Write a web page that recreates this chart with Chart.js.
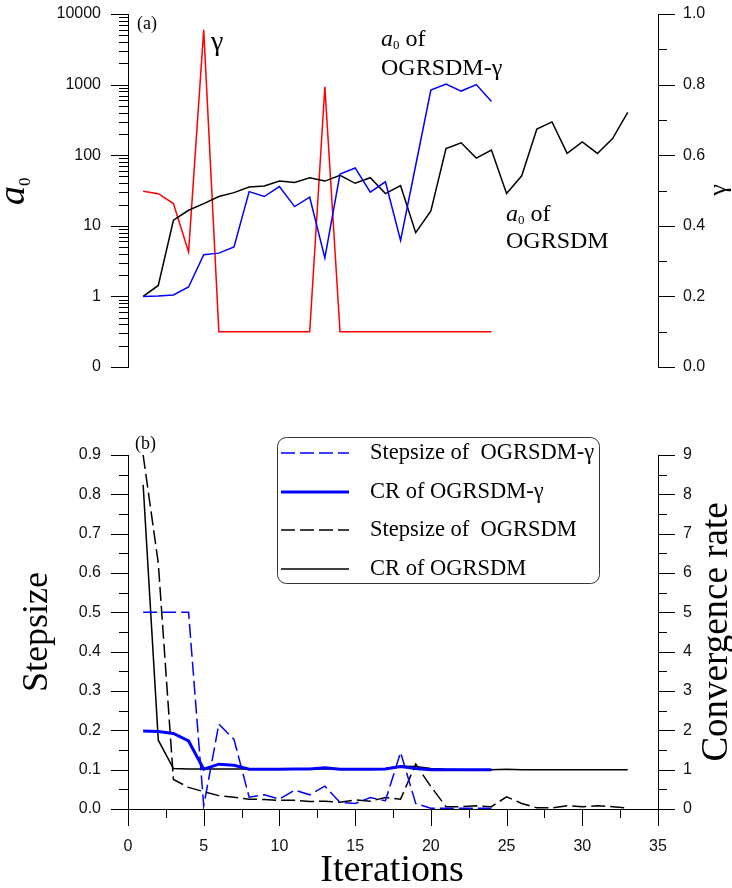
<!DOCTYPE html>
<html>
<head>
<meta charset="utf-8">
<script src="https://cdn.jsdelivr.net/npm/chart.js@4.4.0/dist/chart.umd.min.js"></script>
<style>
  body { margin: 0; background: #fff; }
  #wrap { position: relative; width: 732px; height: 888px; }
  canvas { position: absolute; left: 0; }
</style>
</head>
<body>
<div id="wrap">
  <canvas id="topChart" width="732" height="390" style="top:0"></canvas>
  <canvas id="bottomChart" width="732" height="498" style="top:390px"></canvas>
</div>
<script>
// iterations (x)
const iterations = [1, 2, 3, 4, 5, 6, 7, 8, 9, 10, 11, 12, 13, 14, 15, 16, 17,
  18, 19, 20, 21, 22, 23, 24, 25, 26, 27, 28, 29, 30, 31, 32, 33];

// (a) a0 of OGRSDM-gamma, a0 of OGRSDM, gamma
const a0Gamma = [1, 1.01, 1.05, 1.36, 3.9, 4.1, 5.0, 30.5, 26, 36, 18.7, 25.4,
  3.5, 54, 66, 30, 42, 6.2, 72, 835, 1015, 810, 1000, 575];
const a0Plain = [1, 1.43, 12, 16.6, 20.6, 26, 29.5, 35.5, 36.7, 43, 41, 48, 43,
  52, 40, 48, 28.6, 37, 8, 16.2, 124, 150, 91, 118, 28.6, 51, 234, 296, 106,
  154, 106, 172, 403];
const gammaVals = [0.498, 0.491, 0.463, 0.326, 0.955, 0.1, 0.1, 0.1, 0.1, 0.1,
  0.1, 0.1, 0.794, 0.1, 0.1, 0.1, 0.1, 0.1, 0.1, 0.1, 0.1, 0.1, 0.1, 0.1];

// (b) stepsize and convergence rate
const stepGamma = [0.5, 0.5, 0.5, 0.5, 0.008, 0.216, 0.177, 0.030, 0.036, 0.025,
  0.048, 0.036, 0.058, 0.017, 0.014, 0.029, 0.021, 0.144, 0.014, 0.002, 0.002,
  0.002, 0.002, 0.002];
const crGamma = [1.98, 1.97, 1.92, 1.73, 1.01, 1.14, 1.11, 1.01, 1.01, 1.01,
  1.02, 1.02, 1.05, 1.01, 1.01, 1.01, 1.02, 1.08, 1.03, 1.0, 1.0, 1.0, 1.0, 1.0];
const stepPlain = [0.9, 0.625, 0.075, 0.055, 0.044, 0.034, 0.030, 0.025, 0.024,
  0.022, 0.022, 0.019, 0.020, 0.017, 0.023, 0.020, 0.029, 0.025, 0.114, 0.057,
  0.006, 0.006, 0.008, 0.006, 0.031, 0.014, 0.003, 0.003, 0.008, 0.006, 0.008,
  0.006, 0.002];
const crPlain = [8.24, 1.75, 1.03, 1.02, 1.02, 1.02, 1.02, 1.02, 1.02, 1.02,
  1.02, 1.02, 1.02, 1.02, 1.02, 1.02, 1.03, 1.09, 1.08, 1.03, 1.01, 1.0, 1.0,
  1.0, 1.01, 1.0, 1.0, 1.0, 1.0, 1.0, 1.0, 1.0, 1.0];

// tick values
const a0Ticks = [-1, 0, 1, 2, 3, 4]; // log10 positions, -1 is shown as "0"
const gammaTicks = [0, 0.2, 0.4, 0.6, 0.8, 1.0];
const stepTicks = [0, 0.1, 0.2, 0.3, 0.4, 0.5, 0.6, 0.7, 0.8, 0.9];
const crTicks = [0, 1, 2, 3, 4, 5, 6, 7, 8, 9];
const iterTicks = [0, 5, 10, 15, 20, 25, 30, 35];

const SANS = '"Liberation Sans", Arial, sans-serif';
const SERIF = '"Liberation Serif", "Times New Roman", serif';

function pts(ys, fn) {
  return ys.map((y, i) => ({ x: iterations[i], y: fn ? fn(y) : y }));
}
function minorBetween(major, n) {
  const out = [];
  for (let i = 0; i < major.length - 1; i++) {
    const step = (major[i + 1] - major[i]) / n;
    for (let k = 1; k < n; k++) out.push(major[i] + k * step);
  }
  return out;
}
function logMinor() {
  const out = [];
  for (let e = -1; e < 4; e++) {
    for (let k = 2; k < 10; k++) out.push(Math.log10(k * Math.pow(10, e)));
  }
  return out;
}
// fixed axis box size, no extra label overhang padding
function fixSize(w, h) {
  return s => {
    if (w) s.width = w;
    if (h) s.height = h;
    s.paddingTop = 0; s.paddingBottom = 0;
    s.paddingLeft = 0; s.paddingRight = 0;
  };
}

// draws a run of text pieces (for subscripts), optionally rotated
function drawRich(ctx, parts, x, y, rot, align) {
  ctx.save();
  ctx.translate(x, y);
  if (rot) ctx.rotate(rot);
  ctx.textBaseline = 'alphabetic';
  ctx.textAlign = 'left';
  let total = 0;
  parts.forEach(p => { ctx.font = p.font; total += ctx.measureText(p.t).width; });
  let cx = align === 'center' ? -total / 2 : 0;
  parts.forEach(p => {
    ctx.font = p.font;
    ctx.fillStyle = '#000';
    ctx.fillText(p.t, cx, p.dy || 0);
    cx += ctx.measureText(p.t).width;
  });
  ctx.restore();
}

const decor = {
  id: 'decor',
  afterDraw(chart, args, opts) {
    const ctx = chart.ctx;
    const area = chart.chartArea;
    ctx.save();
    ctx.strokeStyle = '#000';
    ctx.lineWidth = 1;
    (opts.marks || []).forEach(m => {
      const s = chart.scales[m.id];
      const tick = (v, len) => {
        const p = Math.round(s.getPixelForValue(v)) + 0.5;
        ctx.beginPath();
        if (m.side === 'left') { ctx.moveTo(area.left, p); ctx.lineTo(area.left - len, p); }
        if (m.side === 'right') { ctx.moveTo(area.right, p); ctx.lineTo(area.right + len, p); }
        if (m.side === 'bottom') { ctx.moveTo(p, area.bottom); ctx.lineTo(p, area.bottom + len); }
        ctx.stroke();
      };
      m.major.forEach(v => tick(v, 17));
      m.minor.forEach(v => tick(v, 9));
    });
    (opts.texts || []).forEach(t => drawRich(ctx, t.parts, t.x, t.y, t.rot, t.align));

    const lg = opts.legend;
    if (lg) {
      ctx.beginPath();
      ctx.strokeStyle = '#333';
      ctx.lineWidth = 1;
      ctx.roundRect(lg.x + 0.5, lg.y + 0.5, lg.w, lg.h, 9);
      ctx.stroke();
      chart.data.datasets.forEach((ds, i) => {
        const yy = lg.rowY[i];
        ctx.beginPath();
        ctx.strokeStyle = ds.borderColor;
        ctx.lineWidth = ds.borderWidth;
        ctx.setLineDash(ds.borderDash || []);
        ctx.moveTo(lg.lineX0, yy);
        ctx.lineTo(lg.lineX1, yy);
        ctx.stroke();
        ctx.setLineDash([]);
        ctx.fillStyle = '#000';
        ctx.font = lg.font;
        ctx.textBaseline = 'middle';
        ctx.textAlign = 'left';
        ctx.fillText(ds.label, lg.textX, yy);
      });
    }
    ctx.restore();
  }
};

const baseLine = { pointRadius: 0, tension: 0, fill: false };
const tickFont = { family: SANS, size: 16 };

// ---------- (a) ----------
new Chart(document.getElementById('topChart'), {
  type: 'line',
  data: {
    datasets: [
      { ...baseLine, label: 'a0 of OGRSDM-γ', data: pts(a0Gamma, Math.log10),
        borderColor: '#0000ff', borderWidth: 1.5, yAxisID: 'y' },
      { ...baseLine, label: 'a0 of OGRSDM', data: pts(a0Plain, Math.log10),
        borderColor: '#000000', borderWidth: 1.5, yAxisID: 'y' },
      { ...baseLine, label: 'γ', data: pts(gammaVals),
        borderColor: '#ff0000', borderWidth: 1.5, yAxisID: 'y1' }
    ]
  },
  options: {
    responsive: false,
    animation: false,
    devicePixelRatio: 1,
    layout: { padding: { top: 14, bottom: 23, left: 0, right: 0 } },
    plugins: {
      legend: { display: false },
      tooltip: { enabled: false },
      decor: {
        marks: [
          { id: 'y', side: 'left', major: a0Ticks, minor: logMinor() },
          { id: 'y1', side: 'right', major: gammaTicks, minor: minorBetween(gammaTicks, 2) }
        ],
        texts: [
          { parts: [{ t: '(a)', font: '18px ' + SERIF }], x: 137, y: 29 },
          { parts: [{ t: 'γ', font: '28px ' + SERIF }], x: 211, y: 50 },
          { parts: [{ t: 'a', font: 'italic 24px ' + SERIF },
                    { t: '0', font: '13px ' + SERIF, dy: 3 },
                    { t: ' of', font: '24px ' + SERIF }], x: 381, y: 46 },
          { parts: [{ t: 'OGRSDM-γ', font: '24px ' + SERIF }], x: 381, y: 75 },
          { parts: [{ t: 'a', font: 'italic 24px ' + SERIF },
                    { t: '0', font: '13px ' + SERIF, dy: 3 },
                    { t: ' of', font: '24px ' + SERIF }], x: 506, y: 221 },
          { parts: [{ t: 'OGRSDM', font: '24px ' + SERIF }], x: 506, y: 248 },
          { parts: [{ t: 'a', font: 'italic 38px ' + SERIF },
                    { t: '0', font: '17px ' + SERIF, dy: 6 }], x: 24, y: 205, rot: -Math.PI / 2 },
          { parts: [{ t: 'γ', font: '26px ' + SERIF }], x: 726, y: 190, rot: -Math.PI / 2, align: 'center' }
        ]
      }
    },
    scales: {
      x: { type: 'linear', min: 0, max: 35, display: false },
      y: {
        type: 'linear', position: 'left', min: -1, max: 4,
        afterFit: fixSize(128),
        afterBuildTicks: s => { s.ticks = a0Ticks.map(v => ({ value: v })); },
        grid: { display: false, drawTicks: false },
        border: { display: true, color: '#000', width: 1 },
        ticks: {
          font: tickFont, color: '#111', padding: 27,
          callback: v => (v === -1 ? '0' : String(Math.round(Math.pow(10, v))))
        }
      },
      y1: {
        type: 'linear', position: 'right', min: 0, max: 1,
        afterFit: fixSize(74),
        afterBuildTicks: s => { s.ticks = gammaTicks.map(v => ({ value: v })); },
        grid: { display: false, drawTicks: false },
        border: { display: true, color: '#000', width: 1 },
        ticks: { font: tickFont, color: '#111', padding: 25, callback: v => v.toFixed(1) }
      }
    }
  },
  plugins: [decor]
});

// ---------- (b) ----------
new Chart(document.getElementById('bottomChart'), {
  type: 'line',
  data: {
    datasets: [
      { ...baseLine, label: 'Stepsize of  OGRSDM-γ', data: pts(stepGamma),
        borderColor: '#0000ff', borderWidth: 1.5, borderDash: [14, 5], yAxisID: 'y' },
      { ...baseLine, label: 'CR of OGRSDM-γ', data: pts(crGamma),
        borderColor: '#0000ff', borderWidth: 3, yAxisID: 'y1' },
      { ...baseLine, label: 'Stepsize of  OGRSDM', data: pts(stepPlain),
        borderColor: '#000000', borderWidth: 1.5, borderDash: [14, 5], yAxisID: 'y' },
      { ...baseLine, label: 'CR of OGRSDM', data: pts(crPlain),
        borderColor: '#000000', borderWidth: 1.5, yAxisID: 'y1' }
    ]
  },
  options: {
    responsive: false,
    animation: false,
    devicePixelRatio: 1,
    layout: { padding: { top: 65, bottom: 0, left: 0, right: 0 } },
    plugins: {
      legend: { display: false },
      tooltip: { enabled: false },
      decor: {
        marks: [
          { id: 'y', side: 'left', major: stepTicks, minor: minorBetween(stepTicks, 2) },
          { id: 'y1', side: 'right', major: crTicks, minor: minorBetween(crTicks, 2) },
          { id: 'x', side: 'bottom', major: iterTicks, minor: minorBetween(iterTicks, 2) }
        ],
        texts: [
          { parts: [{ t: '(b)', font: '18px ' + SERIF }], x: 135, y: 59 },
          { parts: [{ t: 'Stepsize', font: '36px ' + SERIF }], x: 47, y: 242, rot: -Math.PI / 2, align: 'center' },
          { parts: [{ t: 'Convergence rate', font: '37px ' + SERIF }], x: 727, y: 242, rot: -Math.PI / 2, align: 'center' },
          { parts: [{ t: 'Iterations', font: '38px ' + SERIF }], x: 392, y: 491, align: 'center' }
        ],
        legend: {
          x: 277, y: 47, w: 322, h: 146,
          rowY: [63, 102, 140, 179],
          lineX0: 281, lineX1: 349, textX: 370,
          font: '22.5px ' + SERIF
        }
      }
    },
    scales: {
      x: {
        type: 'linear', min: 0, max: 35,
        afterFit: fixSize(0, 79),
        afterBuildTicks: s => { s.ticks = iterTicks.map(v => ({ value: v })); },
        grid: { display: false, drawTicks: false },
        border: { display: true, color: '#000', width: 1 },
        ticks: { font: tickFont, color: '#111', padding: 28, maxRotation: 0 }
      },
      y: {
        type: 'linear', position: 'left', min: 0, max: 0.9,
        afterFit: fixSize(128),
        afterBuildTicks: s => { s.ticks = stepTicks.map(v => ({ value: v })); },
        grid: { display: false, drawTicks: false },
        border: { display: true, color: '#000', width: 1 },
        ticks: { font: tickFont, color: '#111', padding: 27, callback: v => v.toFixed(1) }
      },
      y1: {
        type: 'linear', position: 'right', min: 0, max: 9,
        afterFit: fixSize(74),
        afterBuildTicks: s => { s.ticks = crTicks.map(v => ({ value: v })); },
        grid: { display: false, drawTicks: false },
        border: { display: true, color: '#000', width: 1 },
        ticks: { font: tickFont, color: '#111', padding: 25, callback: v => String(v) }
      }
    }
  },
  plugins: [decor]
});
</script>
</body>
</html>
